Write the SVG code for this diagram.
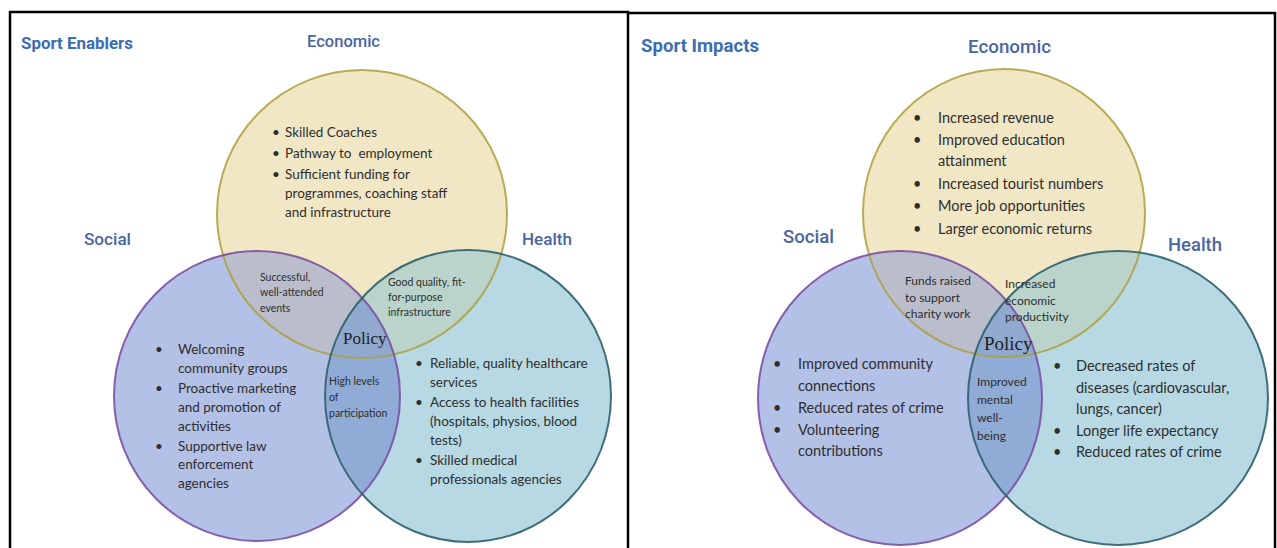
<svg xmlns="http://www.w3.org/2000/svg" width="1277" height="548" viewBox="0 0 1277 548">
<style>
.frame{fill:none;stroke:#000;stroke-width:2.5}
.title{font-family:Roboto,"Liberation Sans",sans-serif;font-weight:700;fill:#3b6cb4}
.cat{font-family:Roboto,"Liberation Sans",sans-serif;font-weight:500;fill:#4a66a2}
.body{font-family:Lato,"Open Sans","Liberation Sans",sans-serif;fill:#2e2e2e}
.l{font-size:13.5px}
.r{font-size:14.5px}
.ls{font-size:10.5px}
.rs{font-size:12px}
.policy{font-family:"Liberation Serif",serif;fill:#222}
.yf{fill:#f1e7c5}
.pf{fill:#b4c1e7}
.tf{fill:#b7d9e4}
.ypf{fill:#babdcc}
.ytf{fill:#bad4cc}
.ptf{fill:#8fabd6}
.yptf{fill:#90a9cf}
.ys{fill:none;stroke:#ad9f3c;stroke-width:2;stroke-opacity:0.85}
.ps{fill:none;stroke:#7c50a2;stroke-width:2;stroke-opacity:0.9}
.ts{fill:none;stroke:#2c606c;stroke-width:2;stroke-opacity:0.9}
</style>
<defs>
<clipPath id="cLY"><ellipse cx="362" cy="214" rx="145" ry="144"/></clipPath>
<clipPath id="cLP"><ellipse cx="257" cy="396" rx="143" ry="145"/></clipPath>
<clipPath id="cRY"><ellipse cx="1004" cy="213" rx="141" ry="144"/></clipPath>
<clipPath id="cRP"><ellipse cx="900" cy="398" rx="142" ry="147"/></clipPath>
</defs>
<rect width="1277" height="548" fill="#fff"/>
<g id="frames">
<path class="frame" d="M10,549 V12 H628 V549"/>
<path class="frame" d="M628,13 H1275 V549"/>
</g>
<text class="title" x="21" y="49" font-size="17" textLength="112" lengthAdjust="spacingAndGlyphs">Sport Enablers</text>
<text class="title" x="641" y="52" font-size="18" textLength="118" lengthAdjust="spacingAndGlyphs">Sport Impacts</text>

<!-- LEFT VENN -->
<g id="left-economic">
<ellipse class="yf" cx="362" cy="214" rx="145" ry="144"/>
<text class="cat" x="307" y="47" font-size="17" textLength="73" lengthAdjust="spacingAndGlyphs">Economic</text>
<g class="body l">
<text x="272" y="137">•</text><text x="285" y="137">Skilled Coaches</text>
<text x="272" y="158">•</text><text x="285" y="158">Pathway to&#160; employment</text>
<text x="272" y="179">•</text><text x="285" y="179">Sufficient funding for</text>
<text x="285" y="198">programmes, coaching staff</text>
<text x="285" y="217">and infrastructure</text>
</g>
</g>
<g id="left-social">
<ellipse class="pf" cx="257" cy="396" rx="143" ry="145"/>
<text class="cat" x="84" y="245" font-size="17" textLength="47" lengthAdjust="spacingAndGlyphs">Social</text>
<g class="body l">
<text x="155" y="354">•</text><text x="178" y="354">Welcoming</text>
<text x="178" y="373">community groups</text>
<text x="155" y="393">•</text><text x="178" y="393">Proactive marketing</text>
<text x="178" y="412">and promotion of</text>
<text x="178" y="431">activities</text>
<text x="155" y="451">•</text><text x="178" y="451">Supportive law</text>
<text x="178" y="469">enforcement</text>
<text x="178" y="488">agencies</text>
</g>
</g>
<g id="left-health">
<ellipse class="tf" cx="468" cy="396" rx="143" ry="146"/>
<text class="cat" x="522" y="245" font-size="17" textLength="50" lengthAdjust="spacingAndGlyphs">Health</text>
<g class="body l">
<text x="415" y="368">•</text><text x="430" y="368">Reliable, quality healthcare</text>
<text x="430" y="387">services</text>
<text x="415" y="407">•</text><text x="430" y="407">Access to health facilities</text>
<text x="430" y="426">(hospitals, physios, blood</text>
<text x="430" y="445">tests)</text>
<text x="415" y="465">•</text><text x="430" y="465">Skilled medical</text>
<text x="430" y="484">professionals agencies</text>
</g>
</g>
<g id="left-overlaps">
<ellipse class="ypf" cx="257" cy="396" rx="143" ry="145" clip-path="url(#cLY)"/>
<ellipse class="ytf" cx="468" cy="396" rx="143" ry="146" clip-path="url(#cLY)"/>
<ellipse class="ptf" cx="468" cy="396" rx="143" ry="146" clip-path="url(#cLP)"/>
<g clip-path="url(#cLY)"><ellipse class="yptf" cx="468" cy="396" rx="143" ry="146" clip-path="url(#cLP)"/></g>
</g>
<g id="left-outlines">
<ellipse class="ys" cx="362" cy="214" rx="145" ry="144"/>
<ellipse class="ps" cx="257" cy="396" rx="143" ry="145"/>
<ellipse class="ts" cx="468" cy="396" rx="143" ry="146"/>
</g>
<g id="left-econ-social" class="body ls">
<text x="260" y="281">Successful,</text>
<text x="260" y="296">well-attended</text>
<text x="260" y="312">events</text>
</g>
<g id="left-econ-health" class="body ls">
<text x="388" y="286">Good quality, fit-</text>
<text x="388" y="301">for-purpose</text>
<text x="388" y="316">infrastructure</text>
</g>
<g id="left-social-health" class="body ls">
<text x="329" y="385">High levels</text>
<text x="329" y="401">of</text>
<text x="329" y="417">participation</text>
</g>
<g id="left-policy">
<text class="policy" x="343" y="344" font-size="17">Policy</text>
</g>

<!-- RIGHT VENN -->
<g id="right-economic">
<ellipse class="yf" cx="1004" cy="213" rx="141" ry="144"/>
<text class="cat" x="968" y="53" font-size="18" textLength="83" lengthAdjust="spacingAndGlyphs">Economic</text>
<g class="body r">
<text x="913" y="123">•</text><text x="938" y="123">Increased revenue</text>
<text x="913" y="145">•</text><text x="938" y="145">Improved education</text>
<text x="938" y="166">attainment</text>
<text x="913" y="189">•</text><text x="938" y="189">Increased tourist numbers</text>
<text x="913" y="211">•</text><text x="938" y="211">More job opportunities</text>
<text x="913" y="234">•</text><text x="938" y="234">Larger economic returns</text>
</g>
</g>
<g id="right-social">
<ellipse class="pf" cx="900" cy="398" rx="142" ry="147"/>
<text class="cat" x="783" y="243" font-size="18" textLength="51" lengthAdjust="spacingAndGlyphs">Social</text>
<g class="body r">
<text x="773" y="369">•</text><text x="798" y="369">Improved community</text>
<text x="798" y="391">connections</text>
<text x="773" y="413">•</text><text x="798" y="413">Reduced rates of crime</text>
<text x="773" y="435">•</text><text x="798" y="435">Volunteering</text>
<text x="798" y="456">contributions</text>
</g>
</g>
<g id="right-health">
<ellipse class="tf" cx="1118" cy="398" rx="150" ry="147"/>
<text class="cat" x="1168" y="251" font-size="18" textLength="54" lengthAdjust="spacingAndGlyphs">Health</text>
<g class="body r">
<text x="1053" y="371">•</text><text x="1076" y="371">Decreased rates of</text>
<text x="1076" y="393">diseases (cardiovascular,</text>
<text x="1076" y="414">lungs, cancer)</text>
<text x="1053" y="436">•</text><text x="1076" y="436">Longer life expectancy</text>
<text x="1053" y="457">•</text><text x="1076" y="457">Reduced rates of crime</text>
</g>
</g>
<g id="right-overlaps">
<ellipse class="ypf" cx="900" cy="398" rx="142" ry="147" clip-path="url(#cRY)"/>
<ellipse class="ytf" cx="1118" cy="398" rx="150" ry="147" clip-path="url(#cRY)"/>
<ellipse class="ptf" cx="1118" cy="398" rx="150" ry="147" clip-path="url(#cRP)"/>
<g clip-path="url(#cRY)"><ellipse class="yptf" cx="1118" cy="398" rx="150" ry="147" clip-path="url(#cRP)"/></g>
</g>
<g id="right-outlines">
<ellipse class="ys" cx="1004" cy="213" rx="141" ry="144"/>
<ellipse class="ps" cx="900" cy="398" rx="142" ry="147"/>
<ellipse class="ts" cx="1118" cy="398" rx="150" ry="147"/>
</g>
<g id="right-econ-social" class="body rs">
<text x="905" y="285">Funds raised</text>
<text x="905" y="302">to support</text>
<text x="905" y="318">charity work</text>
</g>
<g id="right-econ-health" class="body rs">
<text x="1005" y="288">Increased</text>
<text x="1005" y="305">economic</text>
<text x="1005" y="321">productivity</text>
</g>
<g id="right-social-health" class="body rs">
<text x="977" y="386">Improved</text>
<text x="977" y="404">mental</text>
<text x="977" y="422">well-</text>
<text x="977" y="440">being</text>
</g>
<g id="right-policy">
<text class="policy" x="984" y="350" font-size="19">Policy</text>
</g>
</svg>
